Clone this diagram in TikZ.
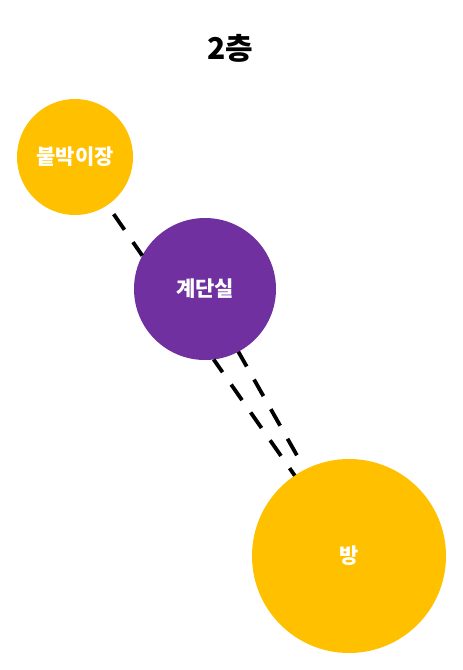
\documentclass[tikz,border=0pt]{standalone}
\usepackage{fontspec}
\newfontfamily\kor{Noto Sans CJK KR}
\definecolor{gold}{HTML}{FFC000}
\definecolor{plum}{HTML}{7030A0}
\tikzset{
  room/.style={circle, fill=#1, inner sep=0pt, outer sep=0pt, text=white,
    font=\kor\bfseries\fontsize{21}{21}\selectfont},
  link/.style={line width=3.8pt, dash pattern=on 19pt off 15pt}
}
\begin{document}
\begin{tikzpicture}[x=1pt,y=1pt]
\useasboundingbox (0,0) rectangle (463,-670);
\node (title) at (230,-48) {\kor\bfseries\fontsize{30}{30}\selectfont 2층};
\node (closet) at (75,-157) [room=gold, minimum size=116pt] {붙박이장};
\node (stair) at (205,-289) [room=plum, minimum size=142pt] {계단실};
\node (bang) at (349,-556) [room=gold, minimum size=194pt] {방};
\draw [link, dash phase=23pt](closet.-56) -- (stair.152);
\draw [link, dash phase=3.4pt](stair.-83.6) -- (bang.124.4);
\draw [link, dash phase=2pt, shorten >=2pt](stair.-62.4) -- (bang.117.5);
\end{tikzpicture}
\end{document}
